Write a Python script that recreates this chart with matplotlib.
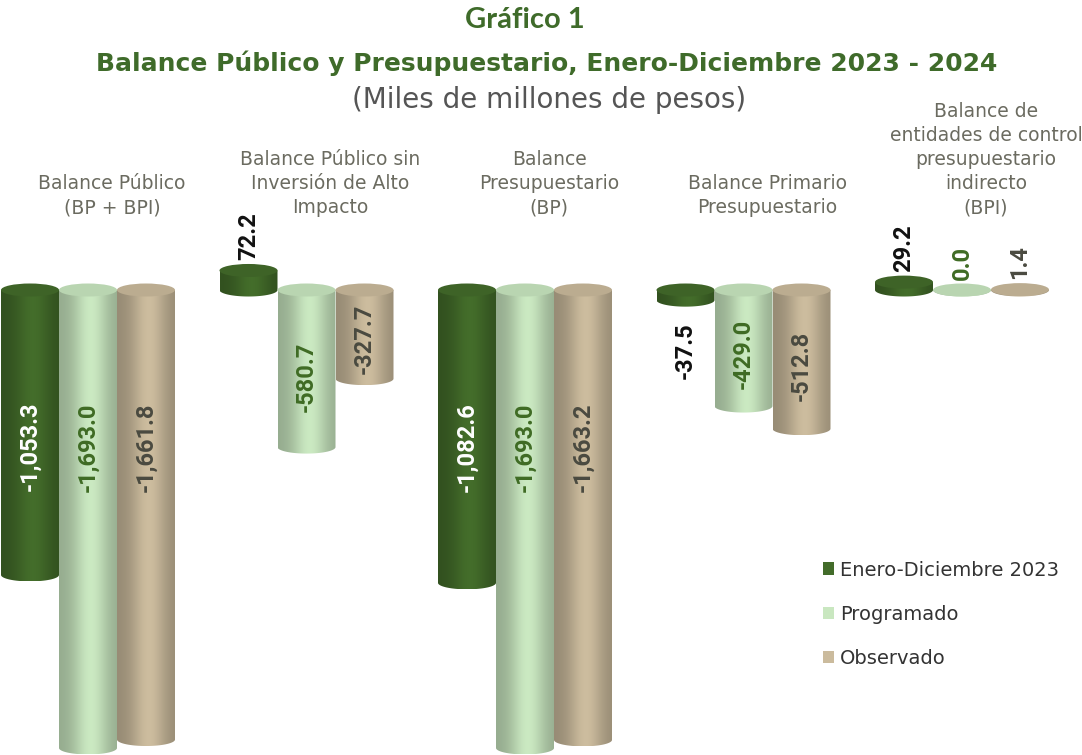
import matplotlib
matplotlib.use("Agg")
import matplotlib.pyplot as plt
import numpy as np
from matplotlib.colors import to_rgb
from matplotlib.patches import Ellipse, Patch, Polygon

categories = [
    "Balance Público\n(BP + BPI)",
    "Balance Público sin\nInversión de Alto\nImpacto",
    "Balance\nPresupuestario\n(BP)",
    "Balance Primario\nPresupuestario",
    "Balance de\nentidades de control\npresupuestario\nindirecto\n(BPI)",
]
series_names = ["Enero-Diciembre 2023", "Programado", "Observado"]
enero_dic_2023 = [-1053.3, 72.2, -1082.6, -37.5, 29.2]
programado = [-1693.0, -580.7, -1693.0, -429.0, 0.0]
observado = [-1661.8, -327.7, -1663.2, -512.8, 1.4]

colors = ["#436c2a", "#c9e7c0", "#cbbb9d"]
inside_text = ["white", "#3f6b24", "#4a4a40"]
outside_text = ["#111111", "#3f6b24", "#4a4a40"]

W, H = 1082, 755
PX_PER_UNIT = 0.2705      # vertical pixels per thousand-million pesos
ZERO_PX = 290             # pixel row of the zero level
BAR_W = 58
GROUP_STEP = 218.5
FIRST_GROUP = 88
CAP_H = 13 / PX_PER_UNIT


def shaded(color, n=120):
    base = np.array(to_rgb(color))
    t = np.linspace(0, 1, n)
    k = 0.74 + 0.27 * np.exp(-((t - 0.55) / 0.3) ** 2)
    rgb = np.clip(base[None, :] * k[:, None], 0, 1)
    return rgb[None, :, :]


def cylinder(ax, xc, val, color, z):
    top, bot = max(val, 0.0), min(val, 0.0)
    th = np.linspace(np.pi, 2 * np.pi, 80)
    lower = np.column_stack([xc + BAR_W / 2 * np.cos(th), bot + CAP_H / 2 * np.sin(th)])
    verts = np.vstack([[xc - BAR_W / 2, top], lower, [xc + BAR_W / 2, top]])
    body = Polygon(verts, closed=True, facecolor="none", edgecolor="none", zorder=z)
    ax.add_patch(body)
    img = ax.imshow(shaded(color), extent=[xc - BAR_W / 2, xc + BAR_W / 2, bot - CAP_H / 2, top],
                    aspect="auto", zorder=z, interpolation="bilinear")
    img.set_clip_path(body)
    cap_col = np.clip(np.array(to_rgb(color)) * 0.92, 0, 1)
    ax.add_patch(Ellipse((xc, top), BAR_W, CAP_H, facecolor=cap_col, edgecolor="none", zorder=z + 0.1))


fig = plt.figure(figsize=(W / 100, H / 100), dpi=100)
ax = fig.add_axes([0, 0, 1, 1])
ax.set_axis_off()

label_font = dict(family=["Roboto", "DejaVu Sans"], fontweight="bold", fontsize=17)
all_series = [enero_dic_2023, programado, observado]

for gi in range(len(categories)):
    gc = FIRST_GROUP + GROUP_STEP * gi
    for si, values in enumerate(all_series):
        v = values[gi]
        xc = gc + (si - 1) * BAR_W
        cylinder(ax, xc, v, colors[si], 2 + si)
        txt = f"{v:,.1f}"
        if v <= -200:
            ypos = max(v * 0.55, -580)
            ax.text(xc, ypos, txt, rotation=90, ha="center", va="center",
                    color=inside_text[si], zorder=10, **label_font)
        elif v < 0:
            ax.text(xc, v - 22 / PX_PER_UNIT, txt, rotation=90, ha="center", va="top",
                    color=outside_text[si], zorder=10, **label_font)
        else:
            ax.text(xc, v + CAP_H / 2 + 4 / PX_PER_UNIT, txt, rotation=90, ha="center", va="bottom",
                    color=outside_text[si], zorder=10, **label_font)
    ax.text(gc + 24, 73 / PX_PER_UNIT, categories[gi], ha="center", va="bottom",
            fontsize=13.5, color="#6b6b60", linespacing=1.33, family="DejaVu Sans")

ax.set_xlim(0, W)
ax.set_ylim(-(H - ZERO_PX) / PX_PER_UNIT, ZERO_PX / PX_PER_UNIT)

fig.text(525 / W, 1 - 20 / H, "Gráfico 1", ha="center", va="center",
         fontsize=21, fontweight="bold", color="#3f6b2a", family="Lato")
fig.text(547 / W, 1 - 63 / H, "Balance Público y Presupuestario, Enero-Diciembre 2023 - 2024",
         ha="center", va="center", fontsize=18, fontweight="bold", color="#3f6b2a")
fig.text(549 / W, 1 - 100 / H, "(Miles de millones de pesos)", ha="center", va="center",
         fontsize=20, color="#555555")

handles = [Patch(facecolor=c, edgecolor="none") for c in colors]
fig.legend(handles, series_names, loc="upper left", bbox_to_anchor=(805 / W, 1 - 543 / H),
           frameon=False, fontsize=14, handlelength=0.6, handleheight=0.6,
           handletextpad=0.3, labelspacing=1.3, labelcolor="#333333")

fig.savefig("out.png", dpi=100)
